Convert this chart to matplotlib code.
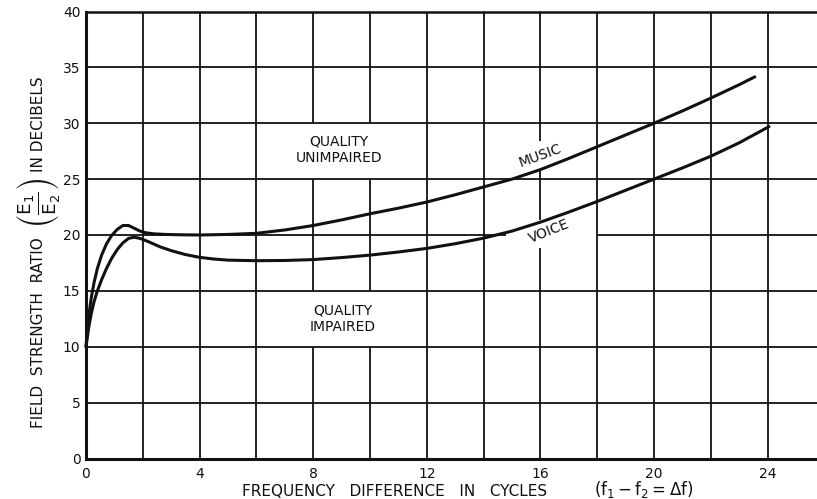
import numpy as np
import matplotlib
matplotlib.use("Agg")
import matplotlib.pyplot as plt

# ---- data ----
music_x = [0, 0.05, 0.1, 0.18, 0.28, 0.4, 0.55, 0.72, 0.9, 1.1, 1.3, 1.5, 1.7, 1.9, 2.1,
           2.4, 2.8, 3.3, 4, 5, 6, 7, 8, 9, 10, 11, 12, 13, 14, 15, 16, 17, 18, 19, 20,
           21, 22, 23, 23.55]
music_y = [10, 11.5, 12.8, 14.3, 15.7, 17.0, 18.2, 19.2, 19.95, 20.5, 20.85, 20.85, 20.6,
           20.35, 20.2, 20.1, 20.05, 20.02, 20.0, 20.05, 20.15, 20.45, 20.85, 21.35, 21.9,
           22.4, 22.95, 23.6, 24.3, 25.0, 25.85, 26.85, 27.9, 28.95, 30.0, 31.1, 32.25,
           33.45, 34.15]

voice_x = [0, 0.05, 0.1, 0.18, 0.28, 0.4, 0.55, 0.72, 0.9, 1.1, 1.3, 1.5, 1.7, 1.9, 2.2,
           2.6, 3.0, 3.5, 4, 4.5, 5, 6, 7, 8, 9, 10, 11, 12, 13, 14, 15, 16, 17, 18, 19,
           20, 21, 22, 23, 24.05]
voice_y = [10, 10.9, 11.8, 12.9, 14.0, 15.0, 16.0, 17.0, 17.9, 18.7, 19.3, 19.7, 19.8,
           19.7, 19.4, 18.95, 18.6, 18.25, 18.0, 17.85, 17.75, 17.7, 17.72, 17.8, 17.98,
           18.2, 18.48, 18.8, 19.22, 19.72, 20.35, 21.15, 22.05, 23.0, 24.0, 25.0, 26.0,
           27.05, 28.25, 29.7]

x_ticks = [0, 4, 8, 12, 16, 20, 24]
y_ticks = [0, 5, 10, 15, 20, 25, 30, 35, 40]
x_grid = [2, 4, 6, 8, 10, 12, 14, 16, 18, 20, 22, 24]
y_grid = [5, 10, 15, 20, 25, 30, 35]

XMAX = 25.74
INK = "#111111"

# grid line segments (the draftsman left gaps behind the lettering)
v_gaps = {8: [(0, 10), (15, 25), (30, 40)],
          10: [(0, 10), (15, 25), (30, 40)],
          16: [(0, 18.8), (21.3, 25.8), (28.4, 40)]}
h_gaps = {20: [(0, 14.8), (18, XMAX)]}

fig = plt.figure(figsize=(8.17, 4.99), dpi=100)
ax = fig.add_axes([86 / 817, 1 - 458.5 / 499, 1 - 86 / 817, (458.5 - 11.5) / 499])
ax.set_xlim(0, XMAX)
ax.set_ylim(0, 40)

for xv in x_grid:
    for lo, hi in v_gaps.get(xv, [(0, 40)]):
        ax.vlines(xv, lo, hi, color=INK, lw=1.3, zorder=1)
for yv in y_grid:
    for lo, hi in h_gaps.get(yv, [(0, XMAX)]):
        ax.hlines(yv, lo, hi, color=INK, lw=1.3, zorder=1)

ax.plot(music_x, music_y, color=INK, lw=2.2, solid_capstyle="round",
        solid_joinstyle="round", zorder=3, clip_on=False)
ax.plot(voice_x, voice_y, color=INK, lw=2.2, solid_capstyle="round",
        solid_joinstyle="round", zorder=3, clip_on=False)

# spines
ax.spines["right"].set_visible(False)
ax.spines["top"].set_linewidth(1.8)
ax.spines["left"].set_linewidth(2.2)
ax.spines["bottom"].set_linewidth(2.2)
for s in ax.spines.values():
    s.set_color(INK)

ax.set_xticks(x_ticks)
ax.set_xticklabels([str(v) for v in x_ticks])
ax.set_yticks(y_ticks)
ax.set_yticklabels([str(v) for v in y_ticks])
ax.tick_params(axis="both", length=0, labelsize=10, colors=INK)
ax.tick_params(axis="x", pad=6)
ax.tick_params(axis="y", pad=4)

# annotations
ax.text(8.9, 27.6, "QUALITY\nUNIMPAIRED", ha="center", va="center", fontsize=10,
        color=INK, linespacing=1.25)
ax.text(9.05, 12.5, "QUALITY\nIMPAIRED", ha="center", va="center", fontsize=10,
        color=INK, linespacing=1.25)
ax.text(16.0, 27.1, "MUSIC", ha="center", va="center", fontsize=10, color=INK,
        rotation=20, rotation_mode="anchor")
ax.text(16.3, 20.3, "VOICE", ha="center", va="center", fontsize=10, color=INK,
        rotation=22, rotation_mode="anchor")

# axis titles
fig.text(38.5 / 817, 1 - 333 / 499, "FIELD  STRENGTH  RATIO",
         rotation=90, ha="center", va="center", fontsize=11, color=INK)
fig.text(38.5 / 817, 1 - 203 / 499,
         r"$\left(\frac{\mathrm{E}_1}{\mathrm{E}_2}\right)$",
         rotation=90, ha="center", va="center", fontsize=19, color=INK)
fig.text(38.5 / 817, 1 - 124 / 499, "IN DECIBELS",
         rotation=90, ha="center", va="center", fontsize=11, color=INK)
fig.text(242 / 817, 1 - 491 / 499, "FREQUENCY   DIFFERENCE   IN   CYCLES",
         ha="left", va="center", fontsize=11, color=INK)
fig.text(594 / 817, 1 - 490 / 499, r"$(\mathrm{f}_1 - \mathrm{f}_2 = \Delta \mathrm{f})$",
         ha="left", va="center", fontsize=12, color=INK)

fig.savefig("out.png", dpi=100, facecolor="white")
